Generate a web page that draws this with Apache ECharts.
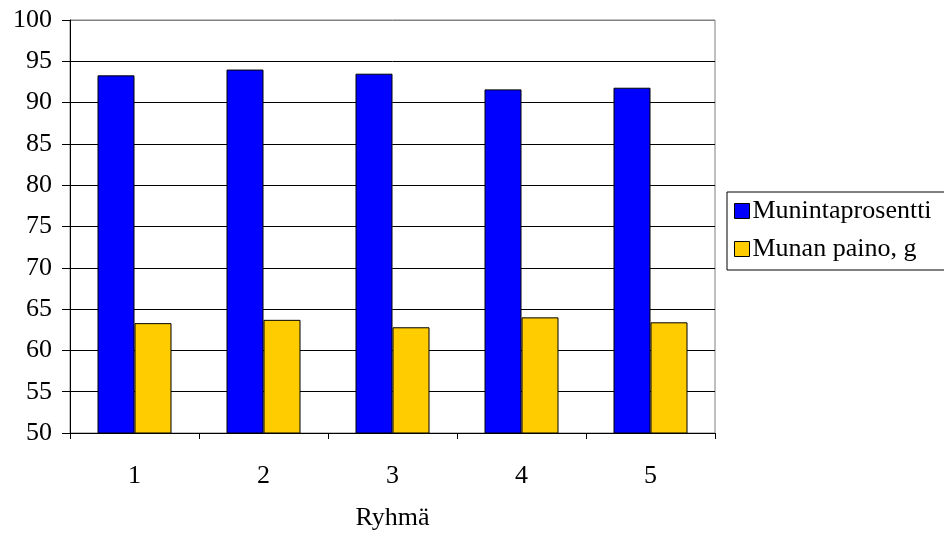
<!DOCTYPE html>
<html>
<head>
<meta charset="utf-8">
<script src="https://cdn.jsdelivr.net/npm/echarts@6/dist/echarts.min.js"></script>
<style>html,body{margin:0;padding:0;background:#fff}#c{width:944px;height:536px}</style>
</head>
<body>
<div id="c"></div>
<script>
const categories = ['1', '2', '3', '4', '5'];
const munintaprosentti = [93.3, 94.0, 93.5, 91.6, 91.8];
const munanPaino = [63.3, 63.7, 62.8, 64.0, 63.4];
const seriesNames = ['Munintaprosentti', 'Munan paino, g'];
const xAxisName = 'Ryhmä';

const FONT = '"Liberation Serif", "Times New Roman", serif';
const chart = echarts.init(document.getElementById('c'), null, {renderer: 'canvas'});
const splitColors = ['#000','#000','#000','#000','#000','#000','#000','#000','#000','#000','#808080'];
chart.setOption({
  animation: false,
  textStyle: {fontFamily: FONT, color: '#000'},
  grid: {left: 70, top: 20, right: 229, bottom: 99, show: true, borderColor: '#808080', borderWidth: 1},
  legend: {
    orient: 'vertical', left: 727, top: 192,
    padding: [6, 30, 8, 7], itemGap: 12, itemWidth: 15, itemHeight: 15,
    borderColor: '#000', borderWidth: 1, backgroundColor: '#fff',
    textStyle: {fontFamily: FONT, fontSize: 26, color: '#000', padding: [0, 0, 0, -2]},
    itemStyle: {borderColor: '#000', borderWidth: 1},
    data: seriesNames.map(n => ({name: n, icon: 'rect'}))
  },
  xAxis: {
    type: 'category', data: categories,
    name: xAxisName, nameLocation: 'middle', nameGap: 72,
    nameTextStyle: {fontFamily: FONT, fontSize: 26, color: '#000'},
    axisLine: {lineStyle: {color: '#000', width: 1}},
    axisTick: {show: true, length: 6, lineStyle: {color: '#000'}},
    axisLabel: {fontFamily: FONT, fontSize: 26, color: '#000', margin: 30}
  },
  yAxis: {
    type: 'value', min: 50, max: 100, interval: 5,
    axisLine: {show: true, lineStyle: {color: '#000', width: 1}},
    axisTick: {show: true, length: 8, lineStyle: {color: '#000'}},
    axisLabel: {fontFamily: FONT, fontSize: 26, color: '#000', margin: 18},
    splitLine: {show: true, lineStyle: {color: splitColors, width: 1}}
  },
  series: [
    {name: seriesNames[0], type: 'bar', data: munintaprosentti, barWidth: 37, barGap: '0%',
     itemStyle: {color: '#0000FF', borderColor: '#000', borderWidth: 1}},
    {name: seriesNames[1], type: 'bar', data: munanPaino, barWidth: 37, barGap: '0%',
     itemStyle: {color: '#FFCC00', borderColor: '#000', borderWidth: 1}}
  ]
});
</script>
</body>
</html>
